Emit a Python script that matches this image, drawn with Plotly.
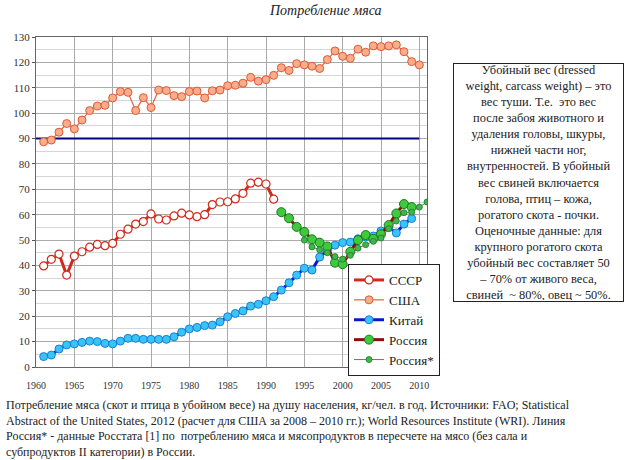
import plotly.graph_objects as go

years_ussr = list(range(1961, 1992))
ussr = [39.8, 42.4, 44.5, 36.2, 43.7, 45.4, 47.2, 48.3, 47.8, 48.7,
        52.3, 54.3, 56.3, 57.3, 60.3, 58.3, 57.9, 59.5, 60.6, 59.9,
        59.2, 60.0, 64.0, 65.0, 65.1, 66.2, 68.4, 72.4, 72.8, 72.1, 66.1]

years_usa = list(range(1961, 2011))
usa = [88.7, 89.4, 92.5, 95.9, 93.8, 97.3, 101.0, 102.8, 103.1, 106.0,
       108.5, 108.2, 101.0, 106.1, 102.2, 109.1, 108.9, 106.9, 106.5, 108.5,
       108.7, 106.0, 108.8, 109.1, 110.8, 111.0, 111.8, 114.1, 112.6, 113.2,
       114.9, 117.9, 116.8, 119.5, 119.0, 118.5, 117.6, 121.1, 124.5, 122.4,
       121.6, 125.2, 124.0, 126.5, 126.2, 126.5, 126.9, 124.2, 120.3, 119.0]

years_china = list(range(1961, 2010))
china = [4.1, 4.7, 7.1, 8.7, 9.1, 9.7, 10.2, 10.0, 9.3, 9.1,
         10.2, 11.3, 11.3, 10.9, 10.9, 10.9, 10.9, 11.9, 13.7, 15.0,
         15.6, 16.3, 16.5, 17.8, 19.8, 21.1, 22.1, 24.0, 24.7, 26.1,
         27.7, 30.3, 33.2, 36.2, 38.9, 38.2, 43.3, 46.0, 48.0, 49.0,
         49.2, 50.5, 51.3, 51.6, 53.6, 55.0, 52.8, 56.3, 58.5]

years_russia = list(range(1992, 2010))
russia = [61.0, 58.6, 55.2, 53.2, 50.3, 49.0, 47.5, 41.1, 40.5, 45.4,
          50.0, 52.0, 50.5, 52.3, 55.9, 60.5, 64.2, 63.0]

years_russia2 = list(range(1995, 2012))
russia2 = [50.0, 47.3, 46.2, 45.0, 43.5, 42.5, 44.0, 46.8, 48.2, 49.5,
           50.8, 54.5, 57.5, 60.8, 61.0, 63.0, 65.0]

ref_x = [1960, 2010]
ref_y = [90, 90]

x_ticks = list(range(1960, 2011, 5))
y_ticks = list(range(0, 131, 10))

title_text = "Потребление мяса"
box_lines = [
    "Убойный вес (dressed",
    "weight, carcass weight) – это",
    "вес туши. Т.е.  это вес",
    "после забоя животного и",
    "удаления головы, шкуры,",
    "нижней части ног,",
    "внутренностей. В убойный",
    "вес свиней включается",
    "голова, птиц – кожа,",
    "рогатого скота - почки.",
    "Оценочные данные: для",
    "крупного рогатого скота",
    "убойный вес составляет 50",
    "– 70% от живого веса,",
    "свиней  ~ 80%, овец ~ 50%.",
]
caption_lines = [
    "Потребление мяса (скот и птица в убойном весе) на душу населения, кг/чел. в год. Источники: FAO; Statistical",
    "Abstract of the United States, 2012 (расчет для США за 2008 – 2010 гг.); World Resources Institute (WRI). Линия",
    "Россия* - данные Росстата [1] по  потреблению мяса и мясопродуктов в пересчете на мясо (без сала и",
    "субпродуктов II категории) в России.",
]

FONT = "Liberation Serif, Times New Roman, serif"
W, H = 640, 460
L, R, T, B = 36, 213, 37, 93
PW, PH = W - L - R, H - T - B

def px_x(p):
    return (p - L) / PW

def px_y(p):
    return (H - B - p) / PH

fig = go.Figure()

fig.add_trace(go.Scatter(x=ref_x, y=ref_y, mode="lines",
                         line=dict(color="#000080", width=2),
                         showlegend=False, hoverinfo="skip"))

fig.add_trace(go.Scatter(x=years_ussr, y=ussr, mode="lines+markers", name="СССР",
                         line=dict(color="#d02a1c", width=3),
                         marker=dict(size=8, color="white",
                                     line=dict(color="#d02a1c", width=1.2))))
fig.add_trace(go.Scatter(x=years_usa, y=usa, mode="lines+markers", name="США",
                         line=dict(color="#e0603e", width=1.2),
                         marker=dict(size=8, color="#f9ad8a",
                                     line=dict(color="#dd5a38", width=1))))
fig.add_trace(go.Scatter(x=years_china, y=china, mode="lines+markers", name="Китай",
                         line=dict(color="#0818d0", width=3),
                         marker=dict(size=8, color="#38c4f6",
                                     line=dict(color="#1a7fd8", width=1))))
fig.add_trace(go.Scatter(x=years_russia, y=russia, mode="lines+markers", name="Россия",
                         line=dict(color="#8a1010", width=3),
                         marker=dict(size=9, color="#3ec93e",
                                     line=dict(color="#1a7a1a", width=1))))
fig.add_trace(go.Scatter(x=years_russia2, y=russia2, mode="lines+markers", name="Россия*",
                         line=dict(color="#a0605a", width=1),
                         marker=dict(size=6, color="#3cb84a",
                                     line=dict(color="#1a7a2a", width=0.8))))

fig.update_layout(
    width=W, height=H,
    margin=dict(l=L, r=R, t=T, b=B, autoexpand=False),
    paper_bgcolor="white", plot_bgcolor="white",
    font=dict(family=FONT, color="#222222"),
    showlegend=True,
    legend=dict(x=px_x(348), y=px_y(264), xanchor="left", yanchor="top",
                bgcolor="white", bordercolor="#222222", borderwidth=1,
                font=dict(family=FONT, size=13, color="#222222"),
                itemwidth=30, tracegroupgap=0),
    xaxis=dict(range=[1960, 2011], tickvals=x_ticks, ticktext=[str(v) for v in x_ticks],
               showgrid=True, gridcolor="#aaaaaa", gridwidth=1,
               showline=True, linecolor="#666666", linewidth=1, mirror=True,
               ticks="", ticklabelstandoff=9,
               tickfont=dict(family=FONT, size=10, color="#333333"),
               zeroline=False, fixedrange=True, automargin=False),
    yaxis=dict(range=[0, 130], tickvals=y_ticks,
               showgrid=True, gridcolor="#aaaaaa", gridwidth=1,
               minor=dict(dtick=5, showgrid=True, gridcolor="#d6d6d6", gridwidth=1),
               showline=True, linecolor="#666666", linewidth=1, mirror=True,
               ticks="outside", ticklen=3, tickcolor="#555555",
               tickfont=dict(family=FONT, size=11, color="#333333"),
               zeroline=False, fixedrange=True, automargin=False),
)

fig.add_annotation(text="<i>" + title_text + "</i>", xref="paper", yref="paper",
                   x=px_x(325), y=px_y(11), xanchor="center", yanchor="middle",
                   showarrow=False, font=dict(family=FONT, size=14, color="#222222"))

fig.add_annotation(text="<br>".join(box_lines), xref="paper", yref="paper",
                   x=px_x(453), y=px_y(63), xanchor="left", yanchor="top",
                   width=167, height=235, align="center", valign="middle",
                   showarrow=False, bordercolor="#222222", borderwidth=1, borderpad=1,
                   bgcolor="white",
                   font=dict(family=FONT, size=12.4, color="#222222"))

fig.add_annotation(text="<br>".join(caption_lines), xref="paper", yref="paper",
                   x=px_x(4), y=px_y(396), xanchor="left", yanchor="top",
                   align="left", showarrow=False,
                   font=dict(family=FONT, size=12.0, color="#222222"))

fig.write_html("out.html", config={"displayModeBar": False},
               post_script="document.body.style.margin='0';")
